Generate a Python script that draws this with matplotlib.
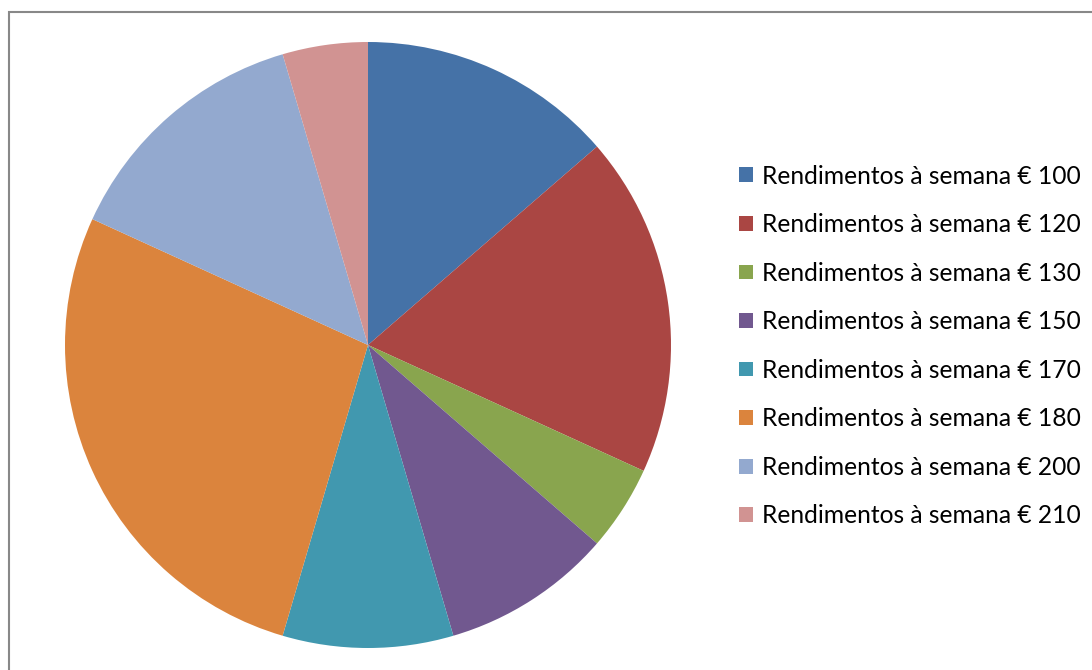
import matplotlib
matplotlib.use("Agg")
import matplotlib.pyplot as plt
from matplotlib.patches import Rectangle

# weekly income categories and how many fall in each
labels = ["Rendimentos à semana € 100", "Rendimentos à semana € 120",
          "Rendimentos à semana € 130", "Rendimentos à semana € 150",
          "Rendimentos à semana € 170", "Rendimentos à semana € 180",
          "Rendimentos à semana € 200", "Rendimentos à semana € 210"]
counts = [3, 4, 1, 2, 2, 6, 3, 1]
colors = ["#4572A7", "#AA4643", "#89A54E", "#71588F",
          "#4198AF", "#DB843D", "#93A9CF", "#D19392"]

W, H = 1092, 670
fig = plt.figure(figsize=(W / 100, H / 100), dpi=100)

# grey frame of the chart area (cut off at right and bottom)
fig.patches.append(Rectangle((9 / W, -0.05), 1.2, 1 - 12 / H + 0.05,
                             transform=fig.transFigure, fill=False,
                             edgecolor="#888888", linewidth=1.5))

cx, cy, r = 368, 345, 303
ax = fig.add_axes([(cx - r) / W, (H - cy - r) / H, 2 * r / W, 2 * r / H])
wedges, _ = ax.pie(counts, colors=colors, startangle=90, counterclock=False,
                   radius=1.0, wedgeprops=dict(linewidth=0))
ax.set_xlim(-1, 1)
ax.set_ylim(-1, 1)
ax.set_aspect("equal")
ax.axis("off")

leg = fig.legend(wedges, labels, loc="center left",
                 bbox_to_anchor=(739 / W, 1 - 346 / H), frameon=False,
                 prop={"family": ["Lato", "DejaVu Sans"], "size": 17.7},
                 handlelength=0.55, handleheight=0.55, handletextpad=0.4,
                 labelspacing=1.04, borderaxespad=0, borderpad=0)

fig.savefig("out.png", dpi=100)
